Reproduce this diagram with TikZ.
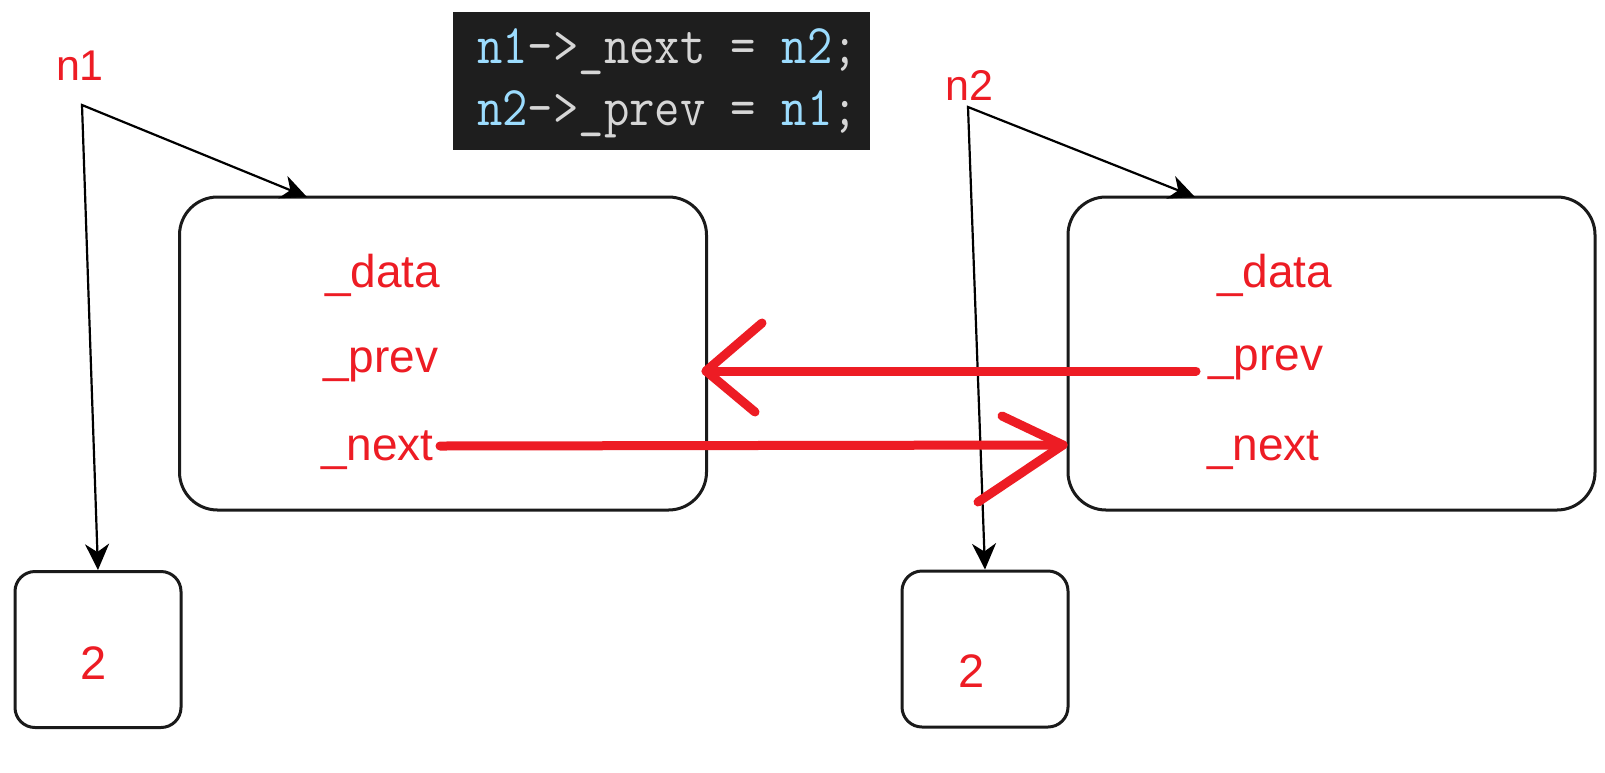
\documentclass[tikz,border=0pt]{standalone}
\usepackage{fontspec}
\setmainfont{Liberation Sans}
\usetikzlibrary{arrows.meta}
\definecolor{redc}{RGB}{237,28,36}
\definecolor{boxline}{RGB}{26,26,26}
\definecolor{codebg}{RGB}{30,30,30}
\definecolor{codeblue}{RGB}{156,220,254}
\definecolor{codefg}{RGB}{214,214,214}
\tikzset{
  bigbox/.style={draw=boxline, line width=3pt, rounded corners=38pt, minimum width=527pt, minimum height=313pt, inner sep=0pt},
  smallbox/.style={draw=boxline, line width=3pt, rounded corners=20pt, minimum width=166pt, minimum height=156pt, inner sep=0pt},
  fieldtext/.style={anchor=base west, inner sep=0pt, text=redc, font=\fontsize{46}{46}\selectfont},
  numtext/.style={anchor=base, inner sep=0pt, text=redc, font=\fontsize{47}{47}\selectfont},
  ptrtext/.style={anchor=base, inner sep=0pt, text=redc, font=\fontsize{43}{43}\selectfont},
  ptrline/.style={draw=black, line width=2.2pt, line join=miter, {Stealth[length=26pt,width=24pt,inset=8pt]}-{Stealth[length=26pt,width=24pt,inset=8pt]}},
  redline/.style={draw=redc, line width=9pt, line cap=round, line join=round},
  codeline/.style={anchor=base west, inner sep=0pt, font=\ttfamily\fontsize{56}{56}\selectfont}
}
\begin{document}
\begin{tikzpicture}[x=1pt,y=-1pt]
\useasboundingbox (0,0) rectangle (1605,772);
\fill[white] (0,0) rectangle (1605,772);

% code box
\node[fill=codebg, minimum width=417pt, minimum height=138pt, inner sep=0pt] (code) at (661.5,81) {};
\node[codeline] (code1) at (477,63) {\scalebox{0.88}[1]{\textcolor{codeblue}{n1}\textcolor{codefg}{->\_next = }\textcolor{codeblue}{n2}\textcolor{codefg}{;}}};
\node[codeline] (code2) at (477,125) {\scalebox{0.88}[1]{\textcolor{codeblue}{n2}\textcolor{codefg}{->\_prev = }\textcolor{codeblue}{n1}\textcolor{codefg}{;}}};

% big boxes
\node[bigbox] (box1) at (443,353.5) {};
\node[bigbox] (box2) at (1331.5,353.5) {};

% small boxes
\node[smallbox] (small1) at (98,649.5) {};
\node[smallbox] (small2) at (985,649) {};
\node[numtext] (num1) at (93.5,679) {2};
\node[numtext] (num2) at (972,687) {2};

% fields
\node[fieldtext] (data1) at (325,287) {\_data};
\node[fieldtext] (prev1) at (323,372) {\_prev};
\node[fieldtext] (next1) at (321,460) {\_next};
\node[fieldtext] (data2) at (1217,287) {\_data};
\node[fieldtext] (prev2) at (1208,370) {\_prev};
\node[fieldtext] (next2) at (1207,460) {\_next};

% pointer labels
\node[ptrtext] (n1) at (80,80) {n1};
\node[ptrtext] (n2) at (969,100) {n2};
\coordinate (n1c) at (82,105);
\coordinate (n2c) at (968,107);
\coordinate (b1top) at (307,197);
\coordinate (b2top) at (1195,197);

\draw[ptrline] (small1.north) -- (n1c) -- (b1top);
\draw[ptrline] (small2.north) -- (n2c) -- (b2top);

% red arrows
\coordinate (prevS) at (1196,371);
\coordinate (prevT) at (706,371);
\coordinate (prevA) at (762,323);
\coordinate (prevB) at (755,412);
\draw[redline] (prevS) -- (prevT);
\draw[redline] (prevA) -- (prevT) -- (prevB);

\coordinate (nextS) at (440,446);
\coordinate (nextT) at (1063,445);
\coordinate (nextA) at (1002,416);
\coordinate (nextB) at (978,502);
\draw[redline] (nextS) -- (nextT);
\draw[redline] (nextA) -- (nextT) -- (nextB);
\end{tikzpicture}
\end{document}
